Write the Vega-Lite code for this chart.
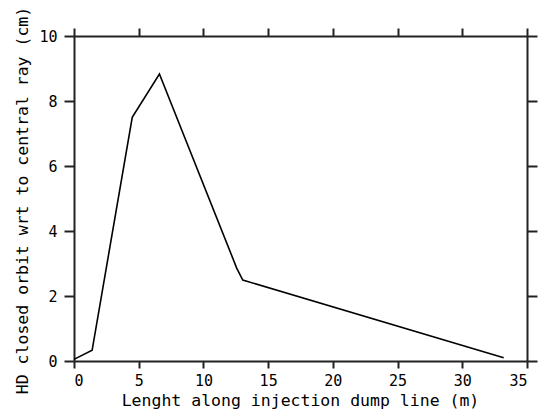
{
  "$schema": "https://vega.github.io/schema/vega-lite/v6.json",
  "width": 453,
  "height": 325,
  "autosize": "none",
  "padding": {"left": 74, "top": 36, "right": 11, "bottom": 54},
  "background": "white",
  "config": {
    "view": {"stroke": null},
    "axis": {
      "domainColor": "#222",
      "domainWidth": 2,
      "tickColor": "#222",
      "tickWidth": 2,
      "grid": false,
      "labelFont": "DejaVu Sans Mono",
      "labelFontSize": 15,
      "labelColor": "black",
      "titleFont": "DejaVu Sans Mono",
      "titleFontSize": 16.5,
      "titleFontWeight": "normal",
      "titleColor": "black"
    }
  },
  "data": {
    "values": [
      {"x": 0, "y": 0.05},
      {"x": 1.4, "y": 0.33},
      {"x": 4.5, "y": 7.5},
      {"x": 6.6, "y": 8.83},
      {"x": 12.57, "y": 2.86},
      {"x": 13.04, "y": 2.49},
      {"x": 33.2, "y": 0.1}
    ]
  },
  "layer": [
    {
      "mark": {"type": "line", "color": "black", "strokeWidth": 1.6},
      "encoding": {
        "x": {
          "field": "x",
          "type": "quantitative",
          "scale": {"domain": [0, 35], "nice": false},
          "axis": {
            "title": "Lenght along injection dump line (m)",
            "values": [0, 5, 10, 15, 20, 25, 30, 35],
            "tickSize": 7,
            "labelPadding": 5,
            "labelBaseline": "top",
            "titleX": 226,
            "titleY": 39,
            "titleBaseline": "middle",
            "titleAnchor": "middle"
          }
        },
        "y": {
          "field": "y",
          "type": "quantitative",
          "scale": {"domain": [0, 10], "nice": false},
          "axis": {
            "title": "HD closed orbit wrt to central ray (cm)",
            "values": [0, 2, 4, 6, 8, 10],
            "tickSize": 10,
            "labelPadding": 7,
            "titleX": -52,
            "titleY": 164,
            "titleBaseline": "middle",
            "titleAnchor": "middle",
            "titleAngle": -90
          }
        }
      }
    },
    {
      "mark": {"type": "line", "opacity": 0},
      "encoding": {
        "x": {
          "field": "x",
          "type": "quantitative",
          "scale": {"domain": [0, 35], "nice": false},
          "axis": {"orient": "top", "title": null, "labels": false, "values": [0, 5, 10, 15, 20, 25, 30, 35], "tickSize": 8}
        },
        "y": {
          "field": "y",
          "type": "quantitative",
          "scale": {"domain": [0, 10], "nice": false},
          "axis": {"orient": "right", "title": null, "labels": false, "values": [0, 2, 4, 6, 8, 10], "tickSize": 10}
        }
      }
    }
  ],
  "resolve": {"axis": {"x": "independent", "y": "independent"}}
}
